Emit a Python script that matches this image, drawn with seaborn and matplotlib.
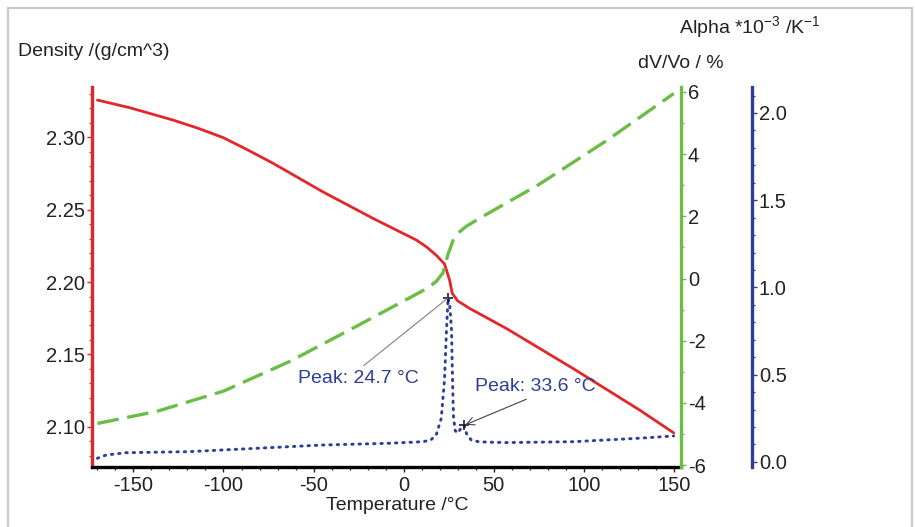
import matplotlib
matplotlib.use("Agg")
import matplotlib.pyplot as plt
from matplotlib.ticker import MultipleLocator, FormatStrFormatter
from matplotlib.patches import Rectangle
import seaborn as sns

# ---- data ----
temp_density = [-170, -152, -128, -114, -100, -86.4, -72.5, -45, -17, 7, 12.6, 18, 22.7,
                25.5, 27, 30, 36.6, 57, 94, 131, 150]
density = [2.3255, 2.3202, 2.3117, 2.3060, 2.2995, 2.2910, 2.2819, 2.2623, 2.2439,
           2.2290, 2.2243, 2.2186, 2.2125, 2.2014, 2.1922, 2.1870, 2.1818, 2.1680,
           2.1404, 2.1117, 2.0959]

temp_dv = [-170, -137, -100, -63, -26, 1.5, 12, 18, 21.8, 24.6, 27.4, 30, 34.8, 44,
           75, 112, 150]
dv_v0 = [-4.66, -4.27, -3.62, -2.66, -1.53, -0.675, -0.35, -0.10, 0.18, 0.77, 1.22,
         1.45, 1.68, 2.00, 3.02, 4.41, 5.95]

temp_alpha = [-170, -165, -154, -119, -82, -45, -8, 10.7, 15, 18.1, 20.9, 22.7, 23.8,
              24.7, 25.6, 26.6, 27.2, 27.7, 28.6, 30, 32, 33.6, 35, 37.5, 42, 57, 94,
              131, 150]
alpha = [0.021, 0.040, 0.053, 0.059, 0.078, 0.097, 0.107, 0.116, 0.125, 0.155, 0.250,
         0.470, 0.756, 0.940, 0.900, 0.756, 0.450, 0.260, 0.180, 0.165, 0.195, 0.210,
         0.160, 0.126, 0.115, 0.111, 0.116, 0.136, 0.149]

peaks_temp = [24.7, 33.6]
peaks_alpha = [0.94, 0.21]
peak_labels = ["Peak: 24.7 °C", "Peak: 33.6 °C"]

x_ticks = [-150, -100, -50, 0, 50, 100, 150]

# ---- style ----
sns.set_style("ticks")
plt.rcParams["font.family"] = ["Liberation Sans", "DejaVu Sans"]
plt.rcParams["axes.unicode_minus"] = False
plt.rcParams["font.size"] = 14

RED = "#e3262a"
GREEN = "#6cbd45"
BLUE = "#2d3e94"
TXT = "#222222"
FS_TICK = 14.5
FS_LAB = 14

fig = plt.figure(figsize=(9.15, 5.27), dpi=100)
ax1 = fig.add_axes([92 / 915, 1 - 467 / 527, (681 - 92) / 915, (467 - 87) / 527])
ax2 = ax1.twinx()
ax3 = ax1.twinx()

sns.lineplot(x=temp_density, y=density, ax=ax1, color=RED, linewidth=2.0, sort=False)
sns.lineplot(x=temp_dv, y=dv_v0, ax=ax2, color=GREEN, linewidth=2.4, sort=False)
sns.lineplot(x=temp_alpha, y=alpha, ax=ax3, color=BLUE, linewidth=2.1, sort=False)
ax1.lines[0].set_solid_joinstyle("round")
ax2.lines[0].set_dashes([6.5, 2.6])
ax3.lines[0].set_dashes([0.5, 2.0])
ax3.lines[0].set_dash_capstyle("round")

# peaks markers and annotations
ax3.plot(peaks_temp, peaks_alpha, linestyle="none", marker="+", color="#1a1a40",
         markersize=7, markeredgewidth=1.2)
ax3.annotate(peak_labels[0], xy=(peaks_temp[0], peaks_alpha[0]), xytext=(-25, 0.48),
             ha="center", va="center", color=BLUE, fontsize=FS_LAB,
             arrowprops=dict(arrowstyle="-", color="#808080", lw=0.8,
                             relpos=(0.5, 1.0), shrinkA=1, shrinkB=0))
ax3.annotate(peak_labels[1], xy=(peaks_temp[1], peaks_alpha[1]), xytext=(73.2, 0.43),
             ha="center", va="center", color=BLUE, fontsize=FS_LAB,
             arrowprops=dict(arrowstyle="->", color="#444444", lw=0.8,
                             relpos=(0.5, 0.0), shrinkA=1, shrinkB=1))

# limits
ax1.set_xlim(-173, 154)
ax1.set_ylim(2.0724, 2.3345)
ax2.set_ylim(-6.06, 6.16)
ax3.set_ylim(-0.029, 2.149)

ax1.set_xticks(x_ticks)
ax1.xaxis.set_minor_locator(MultipleLocator(10))
ax1.yaxis.set_major_locator(MultipleLocator(0.05))
ax1.yaxis.set_minor_locator(MultipleLocator(0.01))
ax1.yaxis.set_major_formatter(FormatStrFormatter("%.2f"))
ax2.yaxis.set_major_locator(MultipleLocator(2))
ax2.yaxis.set_minor_locator(MultipleLocator(1))
ax2.yaxis.set_major_formatter(FormatStrFormatter("%d"))
ax3.yaxis.set_major_locator(MultipleLocator(0.5))
ax3.yaxis.set_minor_locator(MultipleLocator(0.1))
ax3.yaxis.set_major_formatter(FormatStrFormatter("%.1f"))

for ax in (ax1, ax2, ax3):
    ax.set_xlabel("")
    ax.set_ylabel("")
    ax.spines["top"].set_visible(False)
    ax.tick_params(which="major", length=3.5, width=1.0, colors=TXT,
                   labelsize=FS_TICK, pad=1.5)
    ax.tick_params(which="minor", length=2.5, width=0.9, colors=TXT)
ax1.tick_params(axis="x", which="major", pad=3)

ax1.spines["right"].set_visible(False)
ax1.spines["left"].set_color(RED)
ax1.spines["left"].set_linewidth(2.4)
ax1.spines["bottom"].set_color("black")
ax1.spines["bottom"].set_linewidth(2.4)
ax1.tick_params(axis="y", which="both", color=RED)

for ax in (ax2, ax3):
    ax.spines["left"].set_visible(False)
    ax.spines["bottom"].set_visible(False)
ax2.spines["right"].set_color(GREEN)
ax2.spines["right"].set_linewidth(2.4)
ax2.tick_params(axis="y", which="both", color=GREEN)
ax3.spines["right"].set_position(("outward", 51))
ax3.spines["right"].set_color(BLUE)
ax3.spines["right"].set_linewidth(2.4)
ax3.tick_params(axis="y", which="both", color=BLUE)

# axis titles
fig.text(18 / 915, 1 - 52 / 527, "Density /(g/cm^3)", ha="left", va="center",
         fontsize=FS_LAB, color=TXT)
fig.text(681 / 915, 1 - 63 / 527, "dV/Vo / %", ha="center", va="center",
         fontsize=FS_LAB, color=TXT)
fig.text(750 / 915, 1 - 28 / 527, r"Alpha *10$^\mathregular{-3}$ /K$^\mathregular{-1}$",
         ha="center", va="center", fontsize=FS_LAB, color=TXT)
fig.text(397 / 915, 1 - 506 / 527, "Temperature /°C", ha="center", va="center",
         fontsize=FS_LAB, color=TXT)

# light frame around the figure
fig.patches.append(Rectangle((8 / 915, -0.02), (912 - 8) / 915, 1 - 8 / 527 + 0.02,
                             transform=fig.transFigure, fill=False,
                             edgecolor="#c9c9c9", linewidth=1.5))

fig.savefig("out.png", dpi=100)
